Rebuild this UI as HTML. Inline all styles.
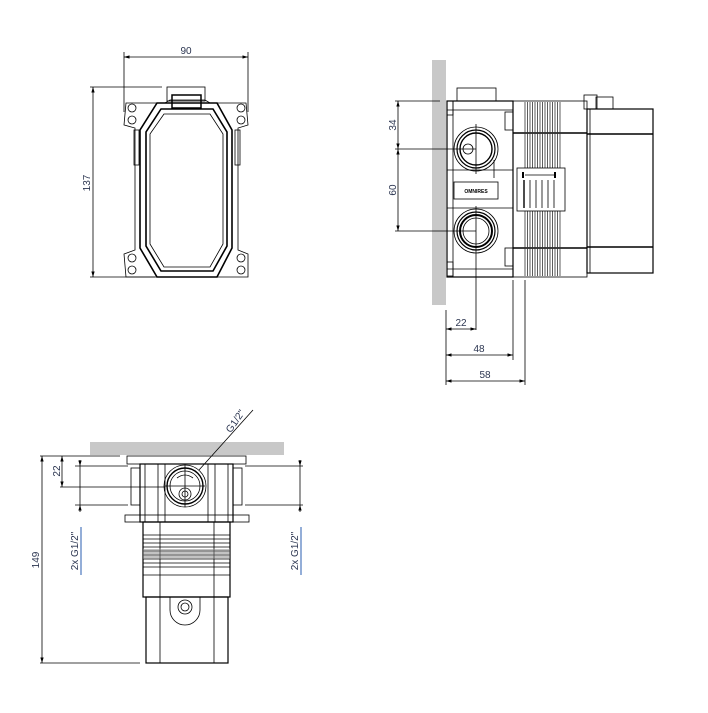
<!DOCTYPE html>
<html><head><meta charset="utf-8"><style>
html,body{margin:0;padding:0;background:#fff}
svg{display:block}
text{font-family:"Liberation Sans",sans-serif;font-size:10px;fill:#2b3550}
</style></head><body>
<svg width="708" height="713" viewBox="0 0 708 713" xmlns="http://www.w3.org/2000/svg">
<defs>
<marker id="a" viewBox="0 0 10 10" refX="10" refY="5" markerWidth="7" markerHeight="7" orient="auto-start-reverse"><path d="M0,2 L10,5 L0,8 z" fill="#000"/></marker>
</defs>
<g stroke="#000" fill="none" stroke-width="0.8">
<!-- VIEW 1 -->
<line x1="124" y1="52" x2="124" y2="112"/><line x1="248" y1="52" x2="248" y2="112"/>
<line x1="124" y1="57" x2="248" y2="57" marker-start="url(#a)" marker-end="url(#a)"/>
<line x1="90" y1="87" x2="162" y2="87"/><line x1="90" y1="277" x2="155" y2="277"/>
<line x1="93" y1="87" x2="93" y2="277" marker-start="url(#a)" marker-end="url(#a)"/>
<rect x="167" y="87" width="38" height="14"/>
<rect x="172" y="95" width="29" height="13" stroke-width="1.5"/>
<path d="M126,103 L165,103 L170,100 L205,100 L210,103 L246,103 L248,125 L238,128 L238,250 L248,254 L248,277 L126,277 L124,254 L135,250 L135,128 L124,125 Z"/>
<path d="M157,103 L140,130 L140,248 L157,277 L217,277 L232,248 L232,130 L217,103 Z" stroke-width="1.6"/>
<path d="M161,109 L146,132 L146,246 L161,271 L213,271 L227,246 L227,132 L213,109 Z" stroke-width="1.6"/>
<path d="M164,114 L150,134 L150,244 L164,267 L210,267 L223,244 L223,134 L210,114 Z"/>
<rect x="134" y="130" width="5" height="35"/><rect x="235" y="130" width="5" height="35"/>
<circle cx="132" cy="108" r="4"/><circle cx="132" cy="120" r="4"/><circle cx="241" cy="108" r="4"/><circle cx="241" cy="120" r="4"/>
<circle cx="132" cy="258" r="4"/><circle cx="132" cy="270" r="4"/><circle cx="241" cy="258" r="4"/><circle cx="241" cy="270" r="4"/>

<!-- VIEW 2 -->
<rect x="432" y="60" width="14" height="245" fill="#c8c8c8" stroke="none"/>
<line x1="395" y1="101" x2="440" y2="101"/><line x1="395" y1="149" x2="476" y2="149"/><line x1="395" y1="231" x2="476" y2="231"/>
<line x1="398" y1="101" x2="398" y2="149" marker-start="url(#a)" marker-end="url(#a)"/>
<line x1="398" y1="149" x2="398" y2="231" marker-start="url(#a)" marker-end="url(#a)"/>
<rect x="457" y="88" width="39" height="13"/>
<rect x="447" y="101" width="66" height="176" stroke-width="1.2"/>
<line x1="453" y1="101" x2="453" y2="277"/>
<line x1="447" y1="110" x2="513" y2="110"/><line x1="447" y1="269" x2="513" y2="269"/>
<rect x="447" y="101" width="6" height="14"/><rect x="447" y="262" width="6" height="14"/>
<rect x="505" y="112" width="8" height="18"/><rect x="505" y="248" width="8" height="18"/>
<line x1="447" y1="170" x2="513" y2="170"/><line x1="447" y1="208" x2="513" y2="208"/>
<circle cx="476" cy="149" r="22"/><circle cx="476" cy="149" r="19" stroke-width="1.2"/><circle cx="476" cy="149" r="16" stroke-width="1.4"/>
<circle cx="468" cy="149" r="5"/>
<circle cx="476" cy="231" r="22"/><circle cx="476" cy="231" r="19" stroke-width="1.2"/><circle cx="476" cy="231" r="16" stroke-width="2"/><circle cx="476" cy="231" r="13"/>
<line x1="476" y1="124" x2="476" y2="174"/><line x1="476" y1="206" x2="476" y2="330"/>
<line x1="494" y1="160" x2="494" y2="178"/>
<rect x="454" y="182" width="44" height="17"/>
<rect x="513" y="101" width="74" height="176"/>
<line x1="513" y1="133" x2="587" y2="133" stroke-width="1.6"/><line x1="513" y1="248" x2="587" y2="248" stroke-width="1.6"/>
<g stroke="#333" stroke-width="0.8">
<line x1="525" y1="102" x2="525" y2="276"/><line x1="527.5" y1="102" x2="527.5" y2="276"/><line x1="530" y1="102" x2="530" y2="276"/><line x1="532.5" y1="102" x2="532.5" y2="276"/><line x1="535" y1="102" x2="535" y2="276"/><line x1="537.5" y1="102" x2="537.5" y2="276"/><line x1="540" y1="102" x2="540" y2="276"/><line x1="542.5" y1="102" x2="542.5" y2="276"/><line x1="545" y1="102" x2="545" y2="276"/><line x1="547.5" y1="102" x2="547.5" y2="276"/><line x1="550" y1="102" x2="550" y2="276"/><line x1="552.5" y1="102" x2="552.5" y2="276"/><line x1="555" y1="102" x2="555" y2="276"/><line x1="557.5" y1="102" x2="557.5" y2="276"/><line x1="560" y1="102" x2="560" y2="276"/>
</g>
<rect x="517" y="168" width="48" height="43" fill="#fff"/>
<line x1="525" y1="175" x2="555" y2="175"/>
<line x1="523" y1="172" x2="523" y2="178" stroke-width="2"/><line x1="555" y1="172" x2="555" y2="178" stroke-width="2"/>
<line x1="524" y1="180" x2="524" y2="208" stroke-width="1.4"/><line x1="530" y1="180" x2="530" y2="208"/><line x1="536" y1="180" x2="536" y2="208"/><line x1="542" y1="180" x2="542" y2="208"/><line x1="548" y1="180" x2="548" y2="208"/><line x1="554" y1="180" x2="554" y2="208"/>
<rect x="587" y="109" width="66" height="164" stroke-width="1.2"/>
<line x1="587" y1="134" x2="653" y2="134" stroke-width="1.6"/><line x1="587" y1="247" x2="653" y2="247" stroke-width="1.6"/>
<line x1="590" y1="109" x2="590" y2="273"/>
<rect x="584" y="95" width="13" height="14"/><rect x="596" y="97" width="17" height="12"/>
<line x1="446" y1="310" x2="446" y2="385"/><line x1="513" y1="280" x2="513" y2="360"/><line x1="525" y1="280" x2="525" y2="385"/>
<line x1="446" y1="329" x2="476" y2="329" marker-start="url(#a)" marker-end="url(#a)"/>
<line x1="446" y1="355" x2="513" y2="355" marker-start="url(#a)" marker-end="url(#a)"/>
<line x1="446" y1="381" x2="525" y2="381" marker-start="url(#a)" marker-end="url(#a)"/>

<!-- VIEW 3 -->
<rect x="90" y="442" width="194" height="13" fill="#c8c8c8" stroke="none"/>
<line x1="40" y1="456" x2="120" y2="456"/><line x1="60" y1="487" x2="165" y2="487"/><line x1="40" y1="663" x2="140" y2="663"/>
<line x1="75" y1="466" x2="128" y2="466"/><line x1="75" y1="505" x2="128" y2="505"/>
<line x1="245" y1="466" x2="303" y2="466"/><line x1="245" y1="505" x2="303" y2="505"/>
<line x1="42" y1="456" x2="42" y2="663" marker-start="url(#a)" marker-end="url(#a)"/>
<line x1="62" y1="456" x2="62" y2="487" marker-start="url(#a)" marker-end="url(#a)"/>
<line x1="80" y1="460" x2="80" y2="466" marker-end="url(#a)"/><line x1="80" y1="505" x2="80" y2="466"/><line x1="80" y1="512" x2="80" y2="505" marker-end="url(#a)"/>
<line x1="300" y1="460" x2="300" y2="466" marker-end="url(#a)"/><line x1="300" y1="505" x2="300" y2="466"/><line x1="300" y1="512" x2="300" y2="505" marker-end="url(#a)"/>
<rect x="127" y="456" width="119" height="8"/>
<rect x="140" y="464" width="93" height="58" stroke-width="1.2"/>
<line x1="145" y1="464" x2="145" y2="522"/><line x1="228" y1="464" x2="228" y2="522"/>
<line x1="158" y1="464" x2="158" y2="522"/><line x1="165" y1="464" x2="165" y2="522"/><line x1="208" y1="464" x2="208" y2="522"/><line x1="215" y1="464" x2="215" y2="522"/>
<rect x="131" y="468" width="9" height="37"/><rect x="233" y="468" width="9" height="37"/>
<rect x="125" y="515" width="124" height="7"/>
<circle cx="185" cy="486" r="21"/><circle cx="185" cy="486" r="18" stroke-width="1.4"/><circle cx="185" cy="486" r="15"/>
<circle cx="185" cy="494" r="6"/><circle cx="185" cy="494" r="3"/>
<path d="M177,478 Q185,472 193,478"/>
<line x1="185" y1="465" x2="185" y2="507"/><line x1="165" y1="486" x2="205" y2="486"/>
<line x1="199" y1="470" x2="253" y2="410"/>
<rect x="143" y="522" width="87" height="75" stroke-width="1.2"/>
<line x1="160" y1="522" x2="160" y2="663"/><line x1="214" y1="522" x2="214" y2="663"/>
<g stroke-width="0.7">
<line x1="143" y1="535" x2="230" y2="535"/><line x1="143" y1="539" x2="230" y2="539"/><line x1="143" y1="543" x2="230" y2="543"/><line x1="143" y1="547" x2="230" y2="547"/><line x1="143" y1="551" x2="230" y2="551"/><line x1="143" y1="555" x2="230" y2="555"/><line x1="143" y1="559" x2="230" y2="559"/><line x1="143" y1="563" x2="230" y2="563"/><line x1="143" y1="567" x2="230" y2="567"/>
</g>
<rect x="143" y="549" width="87" height="10" fill="#888" stroke="none" opacity="0.5"/>
<line x1="143" y1="575" x2="230" y2="575"/>
<rect x="146" y="597" width="82" height="66" stroke-width="1.2"/>
<path d="M170,597 L170,610 A15,15 0 0 0 200,610 L200,597"/>
<circle cx="185" cy="607" r="7"/><circle cx="185" cy="607" r="4"/>
</g>
<g stroke="#2a5db0" stroke-width="1"><line x1="81" y1="527" x2="81" y2="575"/><line x1="301" y1="527" x2="301" y2="575"/></g>
<text x="186" y="54" text-anchor="middle">90</text>
<text transform="translate(90,183) rotate(-90)" text-anchor="middle">137</text>
<text transform="translate(396,125) rotate(-90)" text-anchor="middle">34</text>
<text transform="translate(396,190) rotate(-90)" text-anchor="middle">60</text>
<text x="461" y="326" text-anchor="middle">22</text>
<text x="479" y="352" text-anchor="middle">48</text>
<text x="485" y="378" text-anchor="middle">58</text>
<text transform="translate(39,560) rotate(-90)" text-anchor="middle">149</text>
<text transform="translate(60,471) rotate(-90)" text-anchor="middle">22</text>
<text transform="translate(78,551) rotate(-90)" text-anchor="middle">2x G1/2"</text>
<text transform="translate(298,551) rotate(-90)" text-anchor="middle">2x G1/2"</text>
<text transform="translate(238,423) rotate(-55)" text-anchor="middle">G1/2"</text>
<text x="476" y="193" text-anchor="middle" style="font-size:5px;font-weight:bold;fill:#000">OMNIRES</text>
</svg>
</body></html>
